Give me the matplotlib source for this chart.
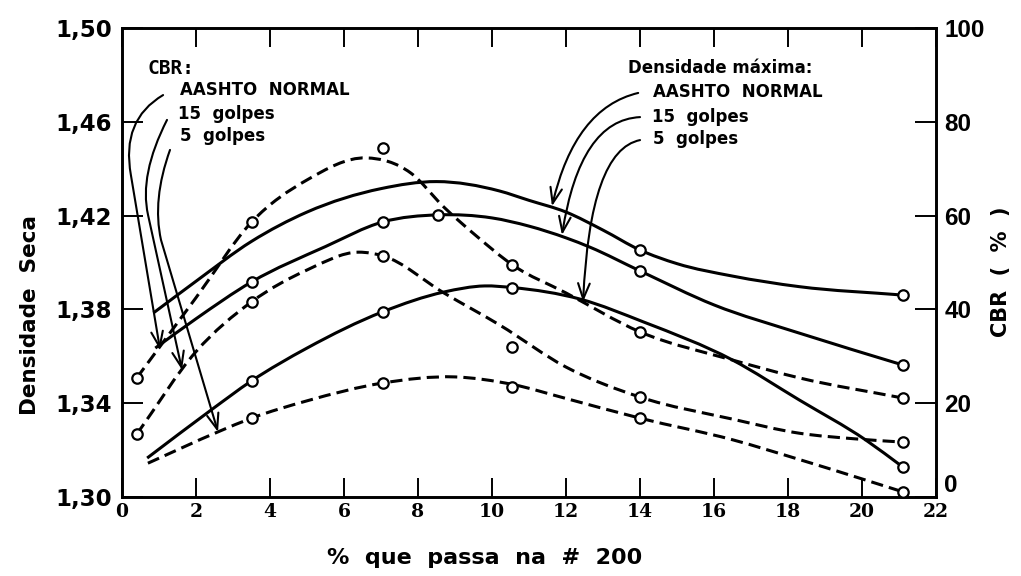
import numpy as np
import matplotlib
matplotlib.use("Agg")
import matplotlib.pyplot as plt
from matplotlib.path import Path
from matplotlib.patches import PathPatch, FancyArrowPatch

# --- densidade seca (eixo esquerdo), curvas cheias ---
dens_aashto_x = [0.85, 2.0, 3.5, 5.0, 7.0, 8.5, 10.2, 11.0, 12.0, 13.0, 14.0, 15.0, 16.5, 18.3, 21.1]
dens_aashto_y = [1.3785, 1.392, 1.409, 1.4215, 1.4315, 1.4345, 1.4305, 1.4265, 1.4215, 1.4138, 1.4053,
                 1.3995, 1.3942, 1.3897, 1.3861]
dens_15_x = [0.9, 2.0, 3.5, 5.5, 7.05, 8.55, 10.0, 11.0, 12.0, 12.65, 14.0, 16.0, 18.3, 21.1]
dens_15_y = [1.3635, 1.376, 1.3917, 1.4068, 1.4173, 1.4203, 1.419, 1.4155, 1.4105, 1.4065, 1.3964, 1.3819, 1.3699, 1.3563]
dens_5_x = [0.68, 2.4, 3.5, 5.0, 7.05, 8.7, 9.8, 10.55, 12.4, 14.1, 16.5, 18.3, 20.1, 21.1]
dens_5_y = [1.3166, 1.337, 1.3495, 1.3635, 1.379, 1.3874, 1.3900, 1.3893, 1.3843, 1.3746, 1.3584, 1.3414, 1.3243, 1.3128]

# ensaios (circulos)
pts_dens_aashto_x = [14.0, 21.1]
pts_dens_aashto_y = [1.4053, 1.3861]
pts_dens_15_x = [3.5, 7.05, 8.55, 14.0, 21.1]
pts_dens_15_y = [1.3917, 1.4173, 1.4203, 1.3964, 1.3563]
pts_dens_5_x = [3.5, 7.05, 10.55, 21.1]
pts_dens_5_y = [1.3495, 1.379, 1.3891, 1.3128]

# --- CBR (eixo direito), curvas tracejadas ---
cbr_aashto_x = [0.4, 2.0, 3.5, 5.0, 6.6, 7.8, 8.7, 9.6, 10.55, 12.0, 14.0, 16.5, 18.3, 21.1]
cbr_aashto_y = [25.4, 42.5, 58.6, 67.6, 72.3, 69.1, 61.8, 55.5, 49.5, 43.5, 35.2, 29.2, 25.4, 21.1]
cbr_15_x = [0.4, 2.0, 3.5, 5.0, 6.4, 7.05, 8.7, 10.2, 12.0, 14.0, 16.5, 18.3, 19.8, 21.1]
cbr_15_y = [13.4, 31.0, 41.6, 48.4, 52.2, 51.4, 43.5, 36.7, 27.7, 21.3, 16.6, 13.6, 12.4, 11.7]
cbr_5_x = [0.7, 2.6, 3.5, 5.0, 7.05, 9.0, 10.55, 12.0, 14.0, 16.5, 18.3, 20.1, 21.1]
cbr_5_y = [7.2, 13.9, 16.8, 20.5, 24.3, 25.6, 24.0, 21.0, 16.8, 12.2, 8.0, 3.6, 1.1]

pts_cbr_aashto_x = [0.4, 3.5, 7.05, 10.55, 14.0, 21.1]
pts_cbr_aashto_y = [25.4, 58.6, 74.4, 49.5, 35.2, 21.1]
pts_cbr_15_x = [0.4, 3.5, 7.05, 10.55, 14.0, 21.1]
pts_cbr_15_y = [13.4, 41.6, 51.4, 32.0, 21.3, 11.7]
pts_cbr_5_x = [3.5, 7.05, 10.55, 14.0, 21.1]
pts_cbr_5_y = [16.8, 24.3, 23.5, 16.8, 1.1]

x_ticks = [0, 2, 4, 6, 8, 10, 12, 14, 16, 18, 20, 22]
dens_ticks = [1.30, 1.34, 1.38, 1.42, 1.46, 1.50]
dens_labels = ["1,30", "1,34", "1,38", "1,42", "1,46", "1,50"]
cbr_ticks = [0, 20, 40, 60, 80, 100]


def smooth_path(xs, ys):
    # curva suave (Hermite cubica em x) pelos pontos lidos, como Bezier
    x = np.asarray(xs, float)
    y = np.asarray(ys, float)
    h = np.diff(x)
    d = np.diff(y) / h
    m = np.empty_like(y)
    m[0], m[-1] = d[0], d[-1]
    m[1:-1] = (d[:-1] * h[1:] + d[1:] * h[:-1]) / (h[:-1] + h[1:])
    verts = [(x[0], y[0])]
    codes = [Path.MOVETO]
    for i in range(len(x) - 1):
        verts += [(x[i] + h[i] / 3, y[i] + m[i] * h[i] / 3),
                  (x[i + 1] - h[i] / 3, y[i + 1] - m[i + 1] * h[i] / 3),
                  (x[i + 1], y[i + 1])]
        codes += [Path.CURVE4] * 3
    return Path(verts, codes)


fig = plt.figure(figsize=(10.21, 5.76), dpi=100)
ax = fig.add_axes([0.1195, 0.1372, 0.7973, 0.8142])
ax2 = ax.twinx()

LW = 2.2
DASH = (0, (4.0, 2.0))
mk = dict(ls="none", marker="o", ms=7.5, mfc="white", mec="black", mew=1.6, zorder=6, clip_on=False)

for xs, ys in [(dens_aashto_x, dens_aashto_y), (dens_15_x, dens_15_y), (dens_5_x, dens_5_y)]:
    ax.add_patch(PathPatch(smooth_path(xs, ys), fill=False, lw=LW, ec="black", zorder=3))
for xs, ys in [(cbr_aashto_x, cbr_aashto_y), (cbr_15_x, cbr_15_y), (cbr_5_x, cbr_5_y)]:
    ax2.add_patch(PathPatch(smooth_path(xs, ys), fill=False, lw=LW, ec="black", ls=DASH, zorder=3))

ax.plot(pts_dens_aashto_x, pts_dens_aashto_y, **mk)
ax.plot(pts_dens_15_x, pts_dens_15_y, **mk)
ax.plot(pts_dens_5_x, pts_dens_5_y, **mk)
ax2.plot(pts_cbr_aashto_x, pts_cbr_aashto_y, **mk)
ax2.plot(pts_cbr_15_x, pts_cbr_15_y, **mk)
ax2.plot(pts_cbr_5_x, pts_cbr_5_y, **mk)

ax.set_xlim(0, 22)
ax.set_ylim(1.30, 1.50)
ax2.set_ylim(0, 100)

for sp in list(ax.spines.values()) + list(ax2.spines.values()):
    sp.set_linewidth(1.9)

ax.set_xticks(x_ticks)
ax.set_yticks(dens_ticks)
ax.set_yticklabels(dens_labels)
ax2.set_yticks(cbr_ticks)

ax.tick_params(axis="x", direction="in", length=14, width=1.4, top=True, pad=4)
ax.tick_params(axis="y", direction="in", length=15, width=1.4, pad=7)
ax2.tick_params(axis="y", direction="in", length=15, width=1.4, pad=6)

for t in ax.get_xticklabels():
    t.set_fontfamily("DejaVu Serif")
    t.set_fontweight("bold")
    t.set_fontsize(13.5)
for t in ax.get_yticklabels():
    t.set_fontfamily("DejaVu Sans")
    t.set_fontweight("bold")
    t.set_fontsize(16.5)
for t in ax2.get_yticklabels():
    t.set_fontfamily("Liberation Sans")
    t.set_fontweight("bold")
    t.set_fontsize(17.5)
# o zero da direita fica um pouco acima da linha, longe do "22"
ax2.get_yticklabels()[0].set_verticalalignment("bottom")

fig.text(30 / 1021, 1 - 315 / 576, "Densidade  Seca", rotation=90, ha="center", va="center",
         fontsize=15.5, fontweight="bold")
fig.text(1001 / 1021, 1 - 272 / 576, "CBR  (  %  )", rotation=90, ha="center", va="center",
         fontsize=15, fontweight="bold")
fig.text(485 / 1021, 1 - 558 / 576, "%  que  passa  na  #  200", ha="center", va="center",
         fontsize=16, fontweight="bold")

# legendas internas
ax.text(0.68, 1.4829, "CBR:", fontsize=14, fontweight="bold", family="DejaVu Sans Mono", va="center")
ax.text(1.57, 1.4736, "AASHTO  NORMAL", fontsize=12, fontweight="bold", va="center")
ax.text(1.51, 1.4633, "15  golpes", fontsize=12, fontweight="bold", va="center")
ax.text(1.57, 1.4539, "5  golpes", fontsize=12, fontweight="bold", va="center")

ax.text(13.68, 1.4829, "Densidade máxima:", fontsize=12, fontweight="bold", va="center")
ax.text(14.35, 1.4727, "AASHTO  NORMAL", fontsize=12, fontweight="bold", va="center")
ax.text(14.32, 1.4620, "15  golpes", fontsize=12, fontweight="bold", va="center")
ax.text(14.35, 1.4527, "5  golpes", fontsize=12, fontweight="bold", va="center")

arrow_kw = dict(arrowstyle="->,head_length=0.8,head_width=0.3", mutation_scale=14,
                lw=1.5, color="black", zorder=5, clip_on=False)

# setas CBR: curva no topo, depois reta ate a curva tracejada
left_arrows = [
    [(1.11, 1.4714), (-0.03, 1.4608), (0.24, 1.4373), (1.03, 1.3627)],
    [(1.216, 1.4608), (0.459, 1.4373), (0.703, 1.4203), (1.622, 1.3542)],
    [(1.297, 1.4480), (0.811, 1.4267), (1.054, 1.4096), (2.595, 1.3277)],
]
for a, c, m, b in left_arrows:
    path = Path([a, c, m, b], [Path.MOVETO, Path.CURVE3, Path.CURVE3, Path.LINETO])
    ax.add_patch(FancyArrowPatch(path=path, **arrow_kw))

# setas densidade maxima: arco ate a curva cheia
right_arrows = [
    [(13.95, 1.4723), (12.24, 1.4659), (11.62, 1.4240)],
    [(14.0, 1.4620), (12.38, 1.4608), (11.89, 1.4117)],
    [(14.0, 1.4522), (12.65, 1.4480), (12.46, 1.3832)],
]
for a, c, b in right_arrows:
    path = Path([a, c, b], [Path.MOVETO, Path.CURVE3, Path.CURVE3])
    ax.add_patch(FancyArrowPatch(path=path, **arrow_kw))

fig.savefig("out.png", dpi=100)
